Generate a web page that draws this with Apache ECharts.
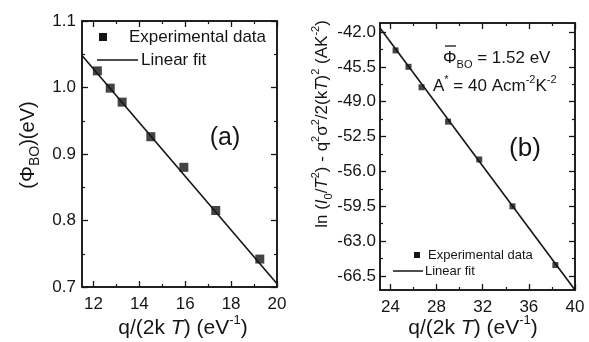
<!DOCTYPE html>
<html>
<head>
<meta charset="utf-8">
<script src="https://cdn.jsdelivr.net/npm/echarts@6/dist/echarts.min.js"></script>
<style>
  html, body { margin: 0; padding: 0; background: #fff; }
  #wrap { position: relative; width: 589px; height: 342px; }
  #chartA { position: absolute; left: 0; top: 0; width: 294px; height: 342px; }
  #chartB { position: absolute; left: 294px; top: 0; width: 295px; height: 342px; }
</style>
</head>
<body>
<div id="wrap">
  <div id="chartA"></div>
  <div id="chartB"></div>
</div>
<script>
// panel (a): barrier height vs q/2kT
const xA = [12.17, 12.73, 13.25, 14.5, 15.94, 17.33, 19.25];
const yA = [1.025, 0.999, 0.978, 0.926, 0.880, 0.815, 0.742];
const fitXA = [11.5, 20];
const fitYA = [1.048, 0.705];
const xTicksA = [12, 14, 16, 18, 20];
const xMinorA = [13, 15, 17, 19];
const yTicksA = [0.7, 0.8, 0.9, 1.0, 1.1];
const yMinorA = [0.75, 0.85, 0.95, 1.05];

// panel (b): modified Richardson plot
const xB = [24.45, 25.57, 26.7, 29.0, 31.7, 34.58, 38.3];
const yB = [-43.85, -45.5, -47.55, -51.0, -54.8, -59.5, -65.4];
const fitXB = [23.1, 40];
const fitYB = [-41.6, -67.9];
const xTicksB = [24, 28, 32, 36, 40];
const xMinorB = [26, 30, 34, 38];
const yTicksB = [-42, -45.5, -49, -52.5, -56, -59.5, -63, -66.5];
const yMinorB = [-43.75, -47.25, -50.75, -54.25, -57.75, -61.25, -64.75];

const FONT = 'Liberation Sans, Arial, sans-serif';
const INK = '#151515';

function grid(r, frame) {
  return Object.assign({ outerBoundsMode: 'none', containLabel: false,
    show: frame, borderColor: INK, borderWidth: 1.5, backgroundColor: 'transparent' }, r);
}
function major(gi, pos, min, max, ticks, fmt, margin, showLabel) {
  return {
    type: 'value', gridIndex: gi, position: pos, min: min, max: max,
    splitLine: { show: false },
    axisLine: { show: true, onZero: false, lineStyle: { color: INK, width: 1.5 } },
    axisTick: { show: true, inside: true, length: 6, customValues: ticks, lineStyle: { color: INK, width: 1.3 } },
    axisLabel: { show: showLabel, customValues: ticks, formatter: fmt, margin: margin, fontSize: 17, color: INK, fontFamily: FONT }
  };
}
// minor ticks sit on a second grid laid over the first one
function minor(gi, pos, min, max, ticks) {
  return {
    type: 'value', gridIndex: gi, position: pos, min: min, max: max,
    splitLine: { show: false },
    axisLine: { show: false, onZero: false },
    axisTick: { show: true, inside: true, length: 3, customValues: ticks, lineStyle: { color: INK, width: 1.2 } },
    axisLabel: { show: false }
  };
}
const f0 = v => String(Math.round(v));
const f1 = v => v.toFixed(1);
const zip = (a, b) => a.map((v, i) => [v, b[i]]);
const rt = (size, extra) => Object.assign({ fontFamily: FONT, fill: INK, fontSize: size }, extra || {});

function panel(p) {
  return {
    animation: false,
    grid: [grid(p.rect, true), grid(p.rect, false)],
    xAxis: [
      major(0, 'bottom', p.xmin, p.xmax, p.xt, f0, 9, true),
      major(0, 'top', p.xmin, p.xmax, p.xt, f0, 9, false),
      minor(1, 'bottom', p.xmin, p.xmax, p.xm),
      minor(1, 'top', p.xmin, p.xmax, p.xm)
    ],
    yAxis: [
      major(0, 'left', p.ymin, p.ymax, p.yt, f1, p.ym0, true),
      major(0, 'right', p.ymin, p.ymax, p.yt, f1, p.ym0, false),
      minor(1, 'left', p.ymin, p.ymax, p.ym),
      minor(1, 'right', p.ymin, p.ymax, p.ym)
    ],
    series: [
      { type: 'line', data: zip(p.fx, p.fy), symbol: 'none', lineStyle: { color: INK, width: 1.6 }, z: 2 },
      { type: 'scatter', data: zip(p.x, p.y), symbol: 'rect', symbolSize: p.size, itemStyle: { color: INK }, z: 3 }
    ],
    graphic: p.graphic
  };
}

const xTitle = cx => ({ type: 'text', x: cx, y: 328, style: {
  text: '{a|q/(2k }{i|T}{a|) (eV}{p|-1}{a|)}', align: 'center', verticalAlign: 'middle',
  rich: { a: rt(21, { lineHeight: 28 }), i: rt(21, { fontStyle: 'italic', lineHeight: 28 }),
    p: rt(13, { verticalAlign: 'top' }) } } });

const optionA = panel({
  rect: { left: 82, top: 21, width: 195, height: 266 },
  xmin: 11.5, xmax: 20, ymin: 0.7, ymax: 1.1, ym0: 6,
  xt: xTicksA, xm: xMinorA, yt: yTicksA, ym: yMinorA,
  fx: fitXA, fy: fitYA, x: xA, y: yA, size: 9,
  graphic: [
    { type: 'rect', shape: { x: 99, y: 33, width: 8, height: 8 }, style: { fill: INK } },
    { type: 'text', x: 129, y: 37, style: { text: 'Experimental data', font: '17px ' + FONT, fill: INK, verticalAlign: 'middle' } },
    { type: 'line', shape: { x1: 97, y1: 60, x2: 138, y2: 60 }, style: { stroke: INK, lineWidth: 1.5 } },
    { type: 'text', x: 141, y: 60, style: { text: 'Linear fit', font: '17px ' + FONT, fill: INK, verticalAlign: 'middle' } },
    { type: 'text', x: 225, y: 138, style: { text: '(a)', font: '25px ' + FONT, fill: INK, align: 'center', verticalAlign: 'middle' } },
    { type: 'text', x: 28, y: 145, rotation: Math.PI / 2, style: {
      text: '{a|(Φ}{s|BO}{a|)(eV)}', align: 'center', verticalAlign: 'middle',
      rich: { a: rt(20, { lineHeight: 28 }), s: rt(14, { verticalAlign: 'bottom' }) } } },
    xTitle(183)
  ]
});

const optionB = panel({
  rect: { left: 86, top: 23, width: 195, height: 267 },
  xmin: 23.1, xmax: 40, ymin: -67.9, ymax: -41.1, ym0: 4,
  xt: xTicksB, xm: xMinorB, yt: yTicksB, ym: yMinorB,
  fx: fitXB, fy: fitYB, x: xB, y: yB, size: 6,
  graphic: [
    { type: 'text', x: 149, y: 58, style: {
      text: '{a|Φ}{s|BO}{a| = 1.52 eV}', verticalAlign: 'middle',
      rich: { a: rt(17, { lineHeight: 24 }), s: rt(11, { verticalAlign: 'bottom' }) } } },
    { type: 'line', shape: { x1: 151, y1: 46, x2: 162, y2: 46 }, style: { stroke: INK, lineWidth: 1.3 } },
    { type: 'text', x: 139, y: 86, style: {
      text: '{a|A}{p|*}{a| = 40 Acm}{p|-2}{a|K}{p|-2}', verticalAlign: 'middle',
      rich: { a: rt(17, { lineHeight: 24 }), p: rt(11, { verticalAlign: 'top' }) } } },
    { type: 'text', x: 231, y: 149, style: { text: '(b)', font: '26px ' + FONT, fill: INK, align: 'center', verticalAlign: 'middle' } },
    { type: 'rect', shape: { x: 120, y: 252, width: 6, height: 6 }, style: { fill: INK } },
    { type: 'text', x: 134, y: 255, style: { text: 'Experimental data', font: '13px ' + FONT, fill: INK, verticalAlign: 'middle' } },
    { type: 'line', shape: { x1: 99, y1: 271, x2: 129, y2: 271 }, style: { stroke: INK, lineWidth: 1.5 } },
    { type: 'text', x: 131, y: 271, style: { text: 'Linear fit', font: '13px ' + FONT, fill: INK, verticalAlign: 'middle' } },
    { type: 'text', x: 28, y: 124, rotation: Math.PI / 2, style: {
      text: '{a|ln (}{i|I}{s|0}{a|/}{i|T}{p|2}{a|) - q}{p|2}{a|σ}{p|2}{a|/2(k}{i|T}{a|)}{p|2}{a| (AK}{p|-2}{a|)}',
      align: 'center', verticalAlign: 'middle',
      rich: { a: rt(17, { lineHeight: 24 }), i: rt(17, { fontStyle: 'italic', lineHeight: 24 }),
        s: rt(11, { verticalAlign: 'bottom' }), p: rt(11, { verticalAlign: 'top' }) } } },
    xTitle(179)
  ]
});

const chartA = echarts.init(document.getElementById('chartA'));
chartA.setOption(optionA);
const chartB = echarts.init(document.getElementById('chartB'));
chartB.setOption(optionB);
</script>
</body>
</html>
